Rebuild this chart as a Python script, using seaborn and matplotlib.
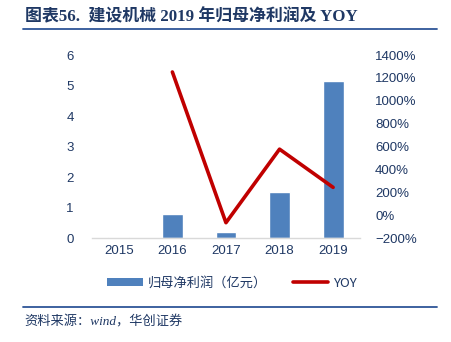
import numpy as np
import pandas as pd
import matplotlib
matplotlib.use("Agg")
import matplotlib.pyplot as plt
from matplotlib.lines import Line2D
from matplotlib.patches import Patch
import seaborn as sns

# Data
years = ["2015", "2016", "2017", "2018", "2019"]
net_profit = [0.04, 0.80, 0.20, 1.51, 5.15]          # 亿元
yoy_years = ["2016", "2017", "2018", "2019"]
yoy = [1252, -66, 577, 243]                          # %
left_ticks = [0, 1, 2, 3, 4, 5, 6]
right_ticks = [-200, 0, 200, 400, 600, 800, 1000, 1200, 1400]

sns.set_theme(style="white")
plt.rcParams["font.family"] = ["Liberation Sans", "Noto Sans CJK SC", "DejaVu Sans"]

NAVY = "#1F3864"
BAR = "#4F81BD"
RED = "#C00000"
RULE = "#2E5597"
SERIF_CJK = ["Liberation Serif", "Noto Sans CJK SC", "DejaVu Sans"]

fig = plt.figure(figsize=(4.51, 3.42), dpi=100)
ax = fig.add_axes([0.204, 0.304, 0.594, 0.535])

df = pd.DataFrame({"year": years, "profit": net_profit})
sns.barplot(data=df, x="year", y="profit", order=years, color=BAR,
            width=0.39, saturation=1, ax=ax)
ax.set_xlim(-0.5, len(years) - 0.5)
ax.set_ylim(0, 6)
ax.set_yticks(left_ticks)
ax.set_xlabel("")
ax.set_ylabel("")
for s in ["top", "right", "left"]:
    ax.spines[s].set_visible(False)
ax.spines["bottom"].set_color("#D9D9D9")
ax.spines["bottom"].set_linewidth(1.0)
ax.tick_params(axis="both", length=0, colors=NAVY, labelsize=9.5)
ax.tick_params(axis="y", pad=13)
ax.tick_params(axis="x", pad=5)

ax2 = ax.twinx()
pos = [years.index(y) for y in yoy_years]
ldf = pd.DataFrame({"pos": pos, "yoy": yoy})
sns.lineplot(data=ldf, x="pos", y="yoy", color=RED, linewidth=2.6, ax=ax2,
             sort=False)
ax2.set_ylim(-200, 1400)
ax2.set_yticks(right_ticks)
ax2.set_yticklabels([f"{t}%".replace("-", "\u2212") for t in right_ticks])
ax2.set_xlim(-0.5, len(years) - 0.5)
ax2.set_ylabel("")
ax2.set_xlabel("")
for s in ax2.spines.values():
    s.set_visible(False)
ax2.tick_params(axis="y", length=0, colors=NAVY, labelsize=9.5, pad=11)

# Title and rules
fig.text(0.055, 0.95, "图表56.  建设机械 2019 年归母净利润及 YOY",
         fontsize=12.2, fontweight="bold", color=NAVY,
         family=SERIF_CJK, va="center", ha="left")
fig.add_artist(Line2D([0.051, 0.969], [0.915, 0.915], color=RULE,
                      linewidth=1.3, transform=fig.transFigure))
fig.add_artist(Line2D([0.051, 0.969], [0.102, 0.102], color=RULE,
                      linewidth=1.3, transform=fig.transFigure))
fig.text(0.055, 0.058, "资料来源：wind，华创证券", fontsize=9.5,
         style="italic", color=NAVY,
         family=SERIF_CJK, va="center", ha="left")

# Legend
handles = [Patch(facecolor=BAR, edgecolor="none"),
           Line2D([0], [0], color=RED, linewidth=2.6)]
labels = ["归母净利润（亿元）", "YOY"]
leg = fig.legend(handles, labels, loc="center", bbox_to_anchor=(0.515, 0.172),
                 ncol=2, frameon=False, handlelength=2.7,
                 handleheight=0.5, columnspacing=1.9, handletextpad=0.4,
                 prop={"family": ["Noto Sans CJK SC", "DejaVu Sans"], "size": 9.5})
for t in leg.get_texts():
    t.set_color(NAVY)

fig.savefig("out.png", dpi=100)
